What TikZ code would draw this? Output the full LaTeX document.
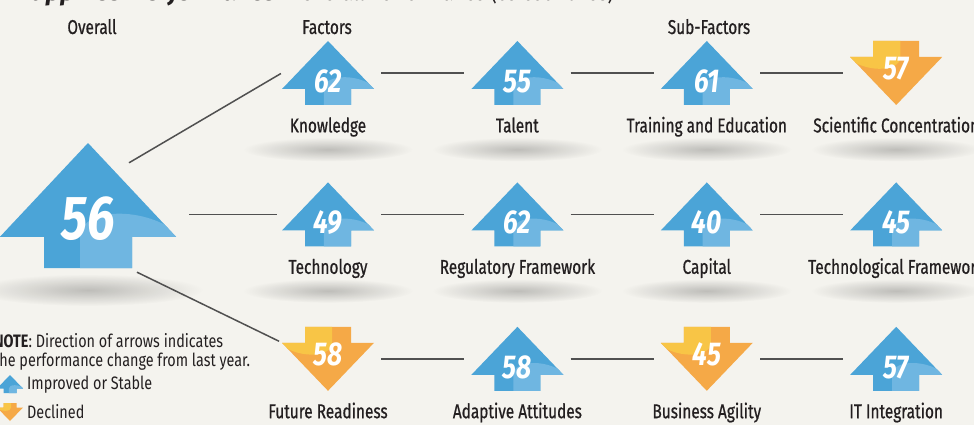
\documentclass[tikz,border=0pt]{standalone}
\usepackage{fontspec}
\setmainfont{Fira Sans}[FakeStretch=0.8]
\newfontfamily\capfont{Fira Sans}[FakeStretch=0.77, FakeBold=0.7]
\newfontfamily\headfont{Fira Sans}
\usepackage{tikz}
\usetikzlibrary{positioning,fadings}

\definecolor{paper}{HTML}{F4F3EE}
\definecolor{upblue}{HTML}{4BA4D7}
\definecolor{uplight}{HTML}{6FB6E1}
\definecolor{downorange}{HTML}{F5A947}
\definecolor{downlight}{HTML}{F8C546}
\definecolor{ink}{HTML}{231F20}
\definecolor{linkgray}{HTML}{505050}

% soft spot under every caption
\tikzfading[name=softspot, inner color=transparent!78, outer color=transparent!100]

% arrow body, drawn inside a node
% #1 x unit, #2 y unit (negative units turn it upside down), #3 body colour, #4 highlight colour
\newcommand{\scorearrow}[4]{%
  \begin{scope}[shift={(path picture bounding box.center)}, x=#1, y=#2]
    \fill[#3] (0,1) -- (1,-0.5) -- (0.5,-0.5) -- (0.5,-1) -- (-0.5,-1) -- (-0.5,-0.5) -- (-1,-0.5) -- cycle;
    \clip (0,1) -- (1,-0.5) -- (0.5,-0.5) -- (0.5,-1) -- (-0.5,-1) -- (-0.5,-0.5) -- (-1,-0.5) -- cycle;
    \fill[#4] (-0.09,-1.1) -- (-0.09,-0.5) .. controls (-0.09,0) and (0.75,0) .. (1.1,-0.55) -- (1.1,-1.1) -- cycle;
  \end{scope}}

% number set off the middle of its arrow (takes no room): shift, text
\newcommand{\scoretext}[2]{\makebox[0pt]{\raisebox{#1}[0pt][0pt]{#2}}}

\tikzset{
    rise/.style 2 args={
           rectangle,
           inner sep=0pt,
           minimum width=2*#1,
           minimum height=2*#2,
           path picture={\scorearrow{#1}{#2}{upblue}{uplight}},
           },
    fall/.style 2 args={
           rectangle,
           inner sep=0pt,
           minimum width=2*#1,
           minimum height=2*#2,
           path picture={\scorearrow{-#1}{-#2}{downorange}{downlight}},
           },
    score/.style={
           text=white,
           font=\bfseries\itshape\fontsize{33}{33}\selectfont,
           },
    improved/.style={rise={46pt}{32pt}, score, node contents={\scoretext{-19.5pt}{#1}}},
    declined/.style={fall={46pt}{32pt}, score, node contents={\scoretext{-6.5pt}{#1}}},
    caption/.style={
           text=ink,
           inner sep=0pt,
           font=\capfont\fontsize{20}{20}\selectfont,
           text height=14pt,
           text depth=4pt,
           },
    keytext/.style={
           text=ink,
           inner sep=0pt,
           font=\fontsize{18}{19}\selectfont,
           },
    link/.style={draw=linkgray, line width=1.5pt, shorten <=7pt, shorten >=7pt},
    spoke/.style={draw=linkgray, line width=1.5pt},
    shadow/.style={fill=black, path fading=softspot},
}

\begin{document}
\begin{tikzpicture}[x=1pt, y=-1pt]
      % PAPER
      \fill[paper] (0,0) rectangle (974,425);
      \useasboundingbox (0,0) rectangle (974,425);

      % TITLE (runs off the top edge)
      \node[text=ink, inner sep=0pt, anchor=base west,
          font=\fontsize{25}{25}\selectfont] (title) at (-4,1)
      {{\headfont\bfseries\itshape Philippines' Performance}\quad Overall Performance (63 countries)};

      % COLUMN HEADERS
      \node[caption] (head-overall) at (92,29) {Overall};
      \node[caption] (head-factors) at (327,29) {Factors};
      \node[caption] (head-sub) at (709,29) {Sub-Factors};

      % OVERALL SCORE
      % same arrow as the small ones, only bigger
      \node (overall) at (88,205.5) [rise={88pt}{62.5pt}, score,
          font=\bfseries\itshape\fontsize{62}{62}\selectfont,
          node contents={\scoretext{-34pt}{56}}];
      \fill[shadow] (88,290) ellipse (115pt and 16pt);

      % ROW 1 KNOWLEDGE
      \node (know) at (328,73) [improved=62];
      \node (talent) [right=97pt of know, improved=55];
      \node (training) [right=97pt of talent, improved=61];
      \node (scientific) [right=97pt of training, declined=57];

      % ROW 2 TECHNOLOGY
      \node (tech) [below=77pt of know, improved=49];
      \node (regulatory) [right=97pt of tech, improved=62];
      \node (capital) [right=97pt of regulatory, improved=40];
      \node (techframe) [right=97pt of capital, improved=45];

      % ROW 3 FUTURE READINESS
      \node (future) [below=80pt of tech, declined=58];
      \node (adaptive) [right=97pt of future, improved=58];
      \node (agility) [right=97pt of adaptive, declined=45];
      \node (itint) [right=97pt of agility, improved=57];

      % CAPTIONS below the arrows
      \node[caption, below=13pt of know] (know-lbl) {Knowledge};
      \node[caption, below=13pt of talent] (talent-lbl) {Talent};
      \node[caption, below=13pt of training] (training-lbl) {Training and Education};
      \node[caption, below=13pt of scientific] (scientific-lbl) {Scientific Concentration};
      \node[caption, below=13pt of tech] (tech-lbl) {Technology};
      \node[caption, below=13pt of regulatory] (regulatory-lbl) {Regulatory Framework};
      \node[caption, below=13pt of capital] (capital-lbl) {Capital};
      \node[caption, below=13pt of techframe] (techframe-lbl) {Technological Framework};
      \node[caption, below=13pt of future] (future-lbl) {Future Readiness};
      \node[caption, below=13pt of adaptive] (adaptive-lbl) {Adaptive Attitudes};
      \node[caption, below=13pt of agility] (agility-lbl) {Business Agility};
      \node[caption, below=13pt of itint] (itint-lbl) {IT Integration};

      \foreach \n in {know,talent,training,scientific,tech,regulatory,capital,techframe}
          \fill[shadow] ([yshift=-22pt]\n-lbl.center) ellipse (85pt and 12pt);

      % LINKS overall -> factors
      \draw[spoke, shorten >=1pt] ([xshift=41pt,yshift=-20pt]overall.north) -- (know.west);
      \draw[spoke, shorten <=13pt, shorten >=5pt] (overall.east |- tech.west) -- (tech.west);
      \draw[spoke, shorten >=3pt] ([xshift=49pt,yshift=-4pt]overall.south) -- ([yshift=-16pt]future.north west);

      % LINKS factors -> sub-factors
      \path
      (know)       edge[link] (talent)
      (talent)     edge[link] (training)
      (training)   edge[link] (scientific)
      (tech)       edge[link] (regulatory)
      (regulatory) edge[link] (capital)
      (capital)    edge[link] (techframe)
      (future)     edge[link] (adaptive)
      (adaptive)   edge[link] (agility)
      (agility)    edge[link] (itint)
      ;

      % NOTE AND KEY
      \node[keytext, anchor=base west] (note1) at (-6,347) {\textbf{NOTE}: Direction of arrows indicates};
      \node[keytext, anchor=base west] (note2) at (-6,366) {the performance change from last year.};
      \node[rise={13pt}{9pt}] (key-up) at (10,384) {};
      \node[fall={13pt}{9pt}] (key-down) at (10,412) {};
      \node[keytext, anchor=west] (key-up-txt) at (27,385) {Improved or Stable};
      \node[keytext, anchor=west] (key-down-txt) at (27,412) {Declined};

\end{tikzpicture}
\end{document}
